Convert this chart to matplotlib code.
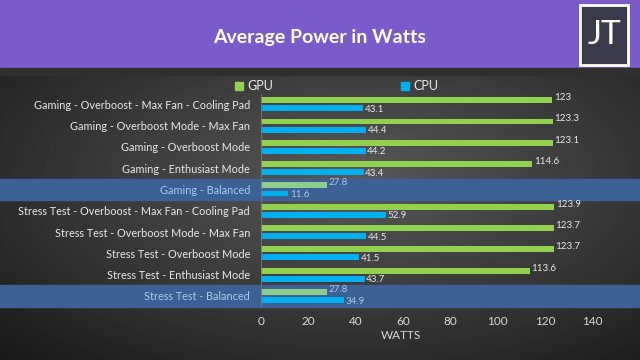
import numpy as np
import matplotlib
matplotlib.use("Agg")
import matplotlib.pyplot as plt
from matplotlib.patches import Rectangle
from matplotlib.lines import Line2D

plt.rcParams['font.family'] = ['Lato', 'DejaVu Sans']

labels = ["Gaming - Overboost - Max Fan - Cooling Pad",
          "Gaming - Overboost Mode - Max Fan",
          "Gaming - Overboost Mode",
          "Gaming - Enthusiast Mode",
          "Gaming - Balanced",
          "Stress Test - Overboost - Max Fan - Cooling Pad",
          "Stress Test - Overboost Mode - Max Fan",
          "Stress Test - Overboost Mode",
          "Stress Test - Enthusiast Mode",
          "Stress Test - Balanced"]
gpu = [123, 123.3, 123.1, 114.6, 27.8, 123.9, 123.7, 123.7, 113.6, 27.8]
cpu = [43.1, 44.4, 44.2, 43.4, 11.6, 52.9, 44.5, 41.5, 43.7, 34.9]
highlight = ["Gaming - Balanced", "Stress Test - Balanced"]
xticks = [0, 20, 40, 60, 80, 100, 120, 140]

green = '#92d050'
green_hl = '#8fcd8c'
blue = '#00b0f0'
band = '#3d6194'
txt = '#e8e8e8'
txt_hl = '#a9c9f2'

fig = plt.figure(figsize=(6.4, 3.6), dpi=100)

# background gradient
bg = fig.add_axes([0, 0, 1, 1], zorder=-10)
xx, yy = np.meshgrid(np.linspace(-1, 1, 320), np.linspace(-1, 1, 180))
r = np.sqrt(((xx - 0.1) * 0.8) ** 2 + (yy * 0.9) ** 2)
bg.imshow(0.35 - 0.2 * r, cmap='gray', vmin=0, vmax=1, aspect='auto',
          extent=[0, 1, 0, 1])
bg.axis('off')

# header
fig.patches.append(Rectangle((0, 1 - 68 / 360), 1, 68 / 360, transform=fig.transFigure,
                             color='#7b5bc9', zorder=1))
fig.patches.append(Rectangle((0, 1 - 75 / 360), 1, 7 / 360, transform=fig.transFigure,
                             color='#2f2f2f', zorder=1))
fig.text(0.5, 1 - 37 / 360, "Average Power in Watts", color='white', fontsize=14,
         fontweight='bold', ha='center', va='center', zorder=3)
# logo
fig.patches.append(Rectangle((580 / 640, 1 - 65 / 360), 48 / 640, 60 / 360,
                             transform=fig.transFigure, facecolor='#3a3a4c',
                             edgecolor='white', linewidth=2, zorder=2))
fig.text(604 / 640, 1 - 35 / 360, "JT", color='white', fontsize=24, ha='center',
         va='center', zorder=3)

ax = fig.add_axes([261 / 640, 53.4 / 360, 379 / 640, 213 / 360])
ax.set_facecolor('none')
y = np.arange(len(labels))
h = 0.28
off = 0.19

for i, lab in enumerate(labels):
    if lab in highlight:
        ax.axhspan(i - 0.5, i + 0.5, xmin=-261 / 379, xmax=1, color=band, clip_on=False,
                   zorder=0)

gcol = [green_hl if l in highlight else green for l in labels]
ax.barh(y - off, gpu, height=h, color=gcol, zorder=2)
ax.barh(y + off, cpu, height=h, color=blue, zorder=2)

for i, lab in enumerate(labels):
    c = txt_hl if lab in highlight else txt
    ax.text(gpu[i] + 0.6, i - off - 0.12, f"{gpu[i]:g}", color=c, fontsize=7,
            va='center', ha='left', zorder=3)
    ax.text(cpu[i] + 0.6, i + off + 0.05, f"{cpu[i]:g}", color=c, fontsize=7,
            va='center', ha='left', zorder=3)

ax.set_xlim(0, 160)
ax.set_ylim(len(labels) - 0.5, -0.5)
ax.set_yticks(y)
ax.set_yticklabels(labels, fontsize=7.8)
for t, lab in zip(ax.get_yticklabels(), labels):
    t.set_color(txt_hl if lab in highlight else txt)
ax.set_xticks(xticks)
ax.tick_params(axis='x', colors='#d8d8d8', labelsize=8.5, length=0, pad=7)
ax.tick_params(axis='y', length=0, pad=8)
for s in ['top', 'right', 'bottom']:
    ax.spines[s].set_visible(False)
ax.spines['left'].set_color('#777777')
ax.spines['left'].set_linewidth(0.6)
ax.set_xlabel("WATTS", color='#d8d8d8', fontsize=8.5, labelpad=2)
ax.xaxis.set_label_coords(140 / 379, -0.11)

handles = [Line2D([], [], marker='s', color=green, linestyle='none', markersize=6),
           Line2D([], [], marker='s', color=blue, linestyle='none', markersize=6)]
leg = fig.legend(handles, ["GPU", "CPU"], loc='center', ncol=2,
                 bbox_to_anchor=(336 / 640, 1 - 86 / 360), frameon=False,
                 fontsize=9, handlelength=0.8, handletextpad=0.3, columnspacing=10.1)
for t in leg.get_texts():
    t.set_color(txt)

fig.savefig("out.png", dpi=100)
